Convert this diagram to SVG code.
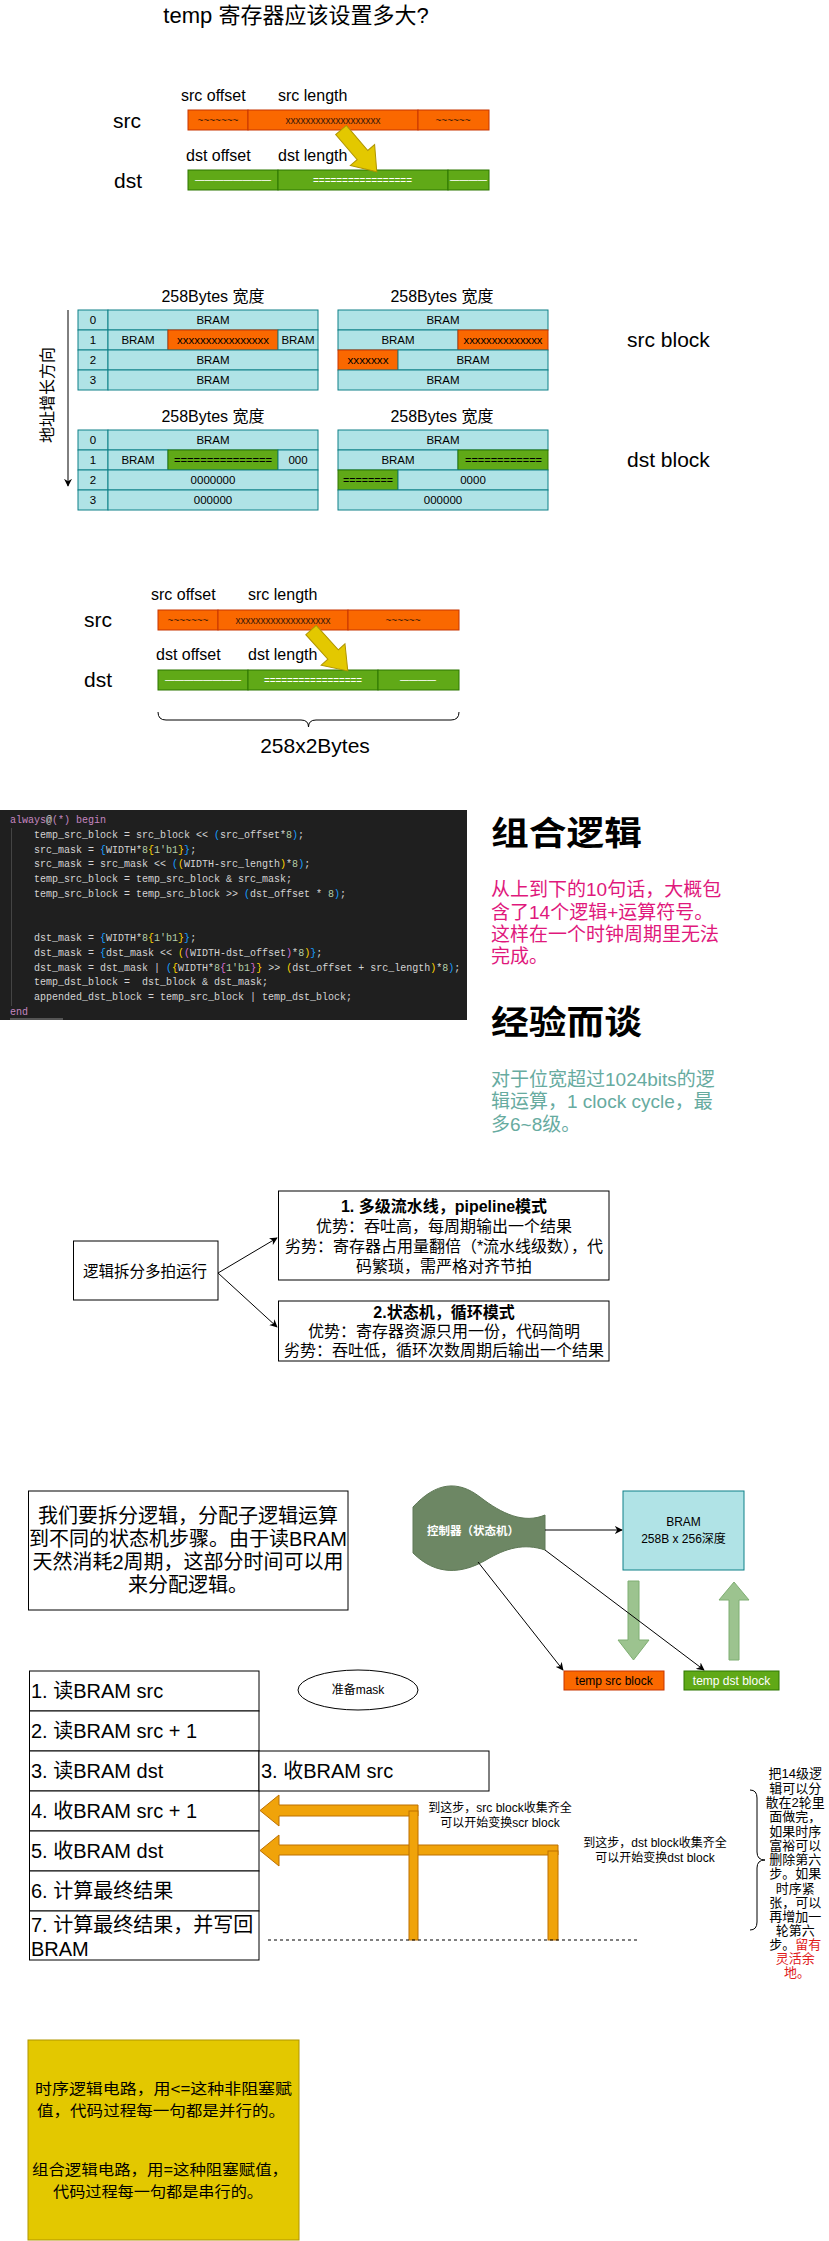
<svg xmlns="http://www.w3.org/2000/svg" width="829" height="2241" viewBox="0 0 829 2241">
<style>
.t{font-family:'Liberation Sans','Noto Sans CJK SC',sans-serif;fill:#000}
.m{text-anchor:middle}
.cell{fill:#b0e3e6;stroke:#0e8088;stroke-width:1}
.or{fill:#fa6800;stroke:#c73500;stroke-width:1}
.gr{fill:#60a917;stroke:#2d7600;stroke-width:1}
.ya{fill:#e3c800;stroke:#b09500;stroke-width:1}
.box{fill:#fff;stroke:#000;stroke-width:1}
.ct{font-family:'Liberation Sans','Noto Sans CJK SC',sans-serif;font-size:11.5px;text-anchor:middle;fill:#000}
.wt{font-family:'Liberation Sans',sans-serif;font-size:11px;text-anchor:middle;fill:#fff}
.dk{font-family:'Liberation Sans',sans-serif;font-size:10px;text-anchor:middle;fill:#3a1a0a}
.code{font-family:'Liberation Mono',monospace;font-size:10px;fill:#d4d4d4;white-space:pre}
.kw{fill:#c586c0}.b1{fill:#179fff}.b2{fill:#ffd700}.b3{fill:#da70d6}.nm{fill:#b5cea8}
.oa{fill:#f0a30a;stroke:#bd7000;stroke-width:1}
.ga{fill:#9cc38f;stroke:#7fae72;stroke-width:1}
.ln{stroke:#000;stroke-width:1;fill:none}
</style>
<defs>
<marker id="ah" viewBox="0 0 10 10" refX="9" refY="5" markerWidth="8" markerHeight="8" orient="auto" markerUnits="userSpaceOnUse">
<path d="M0,0 L10,5 L0,10 L3,5 z" fill="#000"/>
</marker>
</defs>
<rect width="829" height="2241" fill="#fff"/>

<!-- Section 1 -->
<g id="title"><text class="t m" x="296" y="23" font-size="22">temp 寄存器应该设置多大?</text></g>
<g id="src1">
<text class="t" x="113" y="128" font-size="21">src</text>
<text class="t" x="181" y="101" font-size="16">src offset</text>
<text class="t" x="278" y="101" font-size="16">src length</text>
<rect class="or" x="188" y="110" width="60" height="20"/>
<rect class="or" x="248" y="110" width="170" height="20"/>
<rect class="or" x="418" y="110" width="71" height="20"/>
<text class="dk" x="218" y="124">~~~~~~~</text>
<text class="dk" x="333" y="124">xxxxxxxxxxxxxxxxxxx</text>
<text class="dk" x="453" y="124">~~~~~~</text>
</g>
<g id="dst1">
<text class="t" x="114" y="188" font-size="21">dst</text>
<text class="t" x="186" y="161" font-size="16">dst offset</text>
<text class="t" x="278" y="161" font-size="16">dst length</text>
<rect class="gr" x="188" y="170" width="90" height="20"/>
<rect class="gr" x="278" y="170" width="170" height="20"/>
<rect class="gr" x="448" y="170" width="41" height="20"/>
<text class="wt" x="233" y="183" textLength="76" lengthAdjust="spacingAndGlyphs">————————</text>
<text class="wt" x="362.5" y="184" textLength="99" lengthAdjust="spacingAndGlyphs">=================</text>
<text class="wt" x="468.5" y="183" textLength="37" lengthAdjust="spacingAndGlyphs">————</text>
</g>
<g id="arrow1"><polygon class="ya" transform="translate(341,130) rotate(49.4)" points="0,-7 33,-7 33,-16 55,0 33,16 33,7 0,7"/></g>

<!-- BRAM tables -->
<g id="axis">
<line class="ln" x1="68" y1="310" x2="68" y2="486" marker-end="url(#ah)"/>
<text class="t m" transform="translate(53,395) rotate(-90)" font-size="16">地址增长方向</text>
</g>
<g id="srctableL">
<text class="t m" x="213" y="302" font-size="16">258Bytes 宽度</text>
<rect class="cell" x="78" y="310" width="30" height="20"/><rect class="cell" x="108" y="310" width="210" height="20"/>
<rect class="cell" x="78" y="330" width="30" height="20"/><rect class="cell" x="108" y="330" width="60" height="20"/><rect class="or" x="168" y="330" width="110" height="20"/><rect class="cell" x="278" y="330" width="40" height="20"/>
<rect class="cell" x="78" y="350" width="30" height="20"/><rect class="cell" x="108" y="350" width="210" height="20"/>
<rect class="cell" x="78" y="370" width="30" height="20"/><rect class="cell" x="108" y="370" width="210" height="20"/>
<text class="ct" x="93" y="324">0</text><text class="ct" x="213" y="324">BRAM</text>
<text class="ct" x="93" y="344">1</text><text class="ct" x="138" y="344">BRAM</text><text class="ct" x="223" y="344" fill="#3a1a0a" textLength="92" lengthAdjust="spacingAndGlyphs">xxxxxxxxxxxxxxxx</text><text class="ct" x="298" y="344">BRAM</text>
<text class="ct" x="93" y="364">2</text><text class="ct" x="213" y="364">BRAM</text>
<text class="ct" x="93" y="384">3</text><text class="ct" x="213" y="384">BRAM</text>
</g>
<g id="srctableR">
<text class="t m" x="442" y="302" font-size="16">258Bytes 宽度</text>
<rect class="cell" x="338" y="310" width="210" height="20"/>
<rect class="cell" x="338" y="330" width="120" height="20"/><rect class="or" x="458" y="330" width="90" height="20"/>
<rect class="or" x="338" y="350" width="60" height="20"/><rect class="cell" x="398" y="350" width="150" height="20"/>
<rect class="cell" x="338" y="370" width="210" height="20"/>
<text class="ct" x="443" y="324">BRAM</text>
<text class="ct" x="398" y="344">BRAM</text><text class="ct" x="503" y="344" textLength="79" lengthAdjust="spacingAndGlyphs">xxxxxxxxxxxxxx</text>
<text class="ct" x="368" y="364" textLength="41" lengthAdjust="spacingAndGlyphs">xxxxxxx</text><text class="ct" x="473" y="364">BRAM</text>
<text class="ct" x="443" y="384">BRAM</text>
</g>
<g id="srcblocklabel"><text class="t" x="627" y="347" font-size="21">src block</text></g>
<g id="dsttableL">
<text class="t m" x="213" y="422" font-size="16">258Bytes 宽度</text>
<rect class="cell" x="78" y="430" width="30" height="20"/><rect class="cell" x="108" y="430" width="210" height="20"/>
<rect class="cell" x="78" y="450" width="30" height="20"/><rect class="cell" x="108" y="450" width="60" height="20"/><rect class="gr" x="168" y="450" width="110" height="20"/><rect class="cell" x="278" y="450" width="40" height="20"/>
<rect class="cell" x="78" y="470" width="30" height="20"/><rect class="cell" x="108" y="470" width="210" height="20"/>
<rect class="cell" x="78" y="490" width="30" height="20"/><rect class="cell" x="108" y="490" width="210" height="20"/>
<text class="ct" x="93" y="444">0</text><text class="ct" x="213" y="444">BRAM</text>
<text class="ct" x="93" y="464">1</text><text class="ct" x="138" y="464">BRAM</text><text class="ct" x="223" y="464" fill="#fff" textLength="98" lengthAdjust="spacingAndGlyphs">===============</text><text class="ct" x="298" y="464">000</text>
<text class="ct" x="93" y="484">2</text><text class="ct" x="213" y="484">0000000</text>
<text class="ct" x="93" y="504">3</text><text class="ct" x="213" y="504">000000</text>
</g>
<g id="dsttableR">
<text class="t m" x="442" y="422" font-size="16">258Bytes 宽度</text>
<rect class="cell" x="338" y="430" width="210" height="20"/>
<rect class="cell" x="338" y="450" width="120" height="20"/><rect class="gr" x="458" y="450" width="90" height="20"/>
<rect class="gr" x="338" y="470" width="60" height="20"/><rect class="cell" x="398" y="470" width="150" height="20"/>
<rect class="cell" x="338" y="490" width="210" height="20"/>
<text class="ct" x="443" y="444">BRAM</text>
<text class="ct" x="398" y="464">BRAM</text><text class="ct" x="503.5" y="464" fill="#fff" textLength="77" lengthAdjust="spacingAndGlyphs">============</text>
<text class="ct" x="368" y="484" fill="#fff" textLength="50" lengthAdjust="spacingAndGlyphs">========</text><text class="ct" x="473" y="484">0000</text>
<text class="ct" x="443" y="504">000000</text>
</g>
<g id="dstblocklabel"><text class="t" x="627" y="467" font-size="21">dst block</text></g>

<!-- Section 2 -->
<g id="src2">
<text class="t" x="84" y="627" font-size="21">src</text>
<text class="t" x="151" y="600" font-size="16">src offset</text>
<text class="t" x="248" y="600" font-size="16">src length</text>
<rect class="or" x="158" y="610" width="60" height="20"/>
<rect class="or" x="218" y="610" width="130" height="20"/>
<rect class="or" x="348" y="610" width="111" height="20"/>
<text class="dk" x="188" y="624">~~~~~~~</text>
<text class="dk" x="283" y="624">xxxxxxxxxxxxxxxxxxx</text>
<text class="dk" x="403" y="624">~~~~~~</text>
</g>
<g id="dst2">
<text class="t" x="84" y="687" font-size="21">dst</text>
<text class="t" x="156" y="660" font-size="16">dst offset</text>
<text class="t" x="248" y="660" font-size="16">dst length</text>
<rect class="gr" x="158" y="670" width="90" height="20"/>
<rect class="gr" x="248" y="670" width="130" height="20"/>
<rect class="gr" x="378" y="670" width="81" height="20"/>
<text class="wt" x="203" y="683" textLength="76" lengthAdjust="spacingAndGlyphs">————————</text>
<text class="wt" x="313" y="684" textLength="98" lengthAdjust="spacingAndGlyphs">=================</text>
<text class="wt" x="418" y="683" textLength="36" lengthAdjust="spacingAndGlyphs">————</text>
</g>
<g id="arrow2"><polygon class="ya" transform="translate(311,630) rotate(48)" points="0,-7 33,-7 33,-16 55,0 33,16 33,7 0,7"/></g>
<g id="brace1">
<path class="ln" d="M158,712 Q158,720 166,720 L301,720 Q308.5,720 308.5,727 Q308.5,720 316,720 L451,720 Q459,720 459,712"/>
<text class="t m" x="315" y="753" font-size="21">258x2Bytes</text>
</g>

<!-- Code -->
<g id="code">
<rect x="0" y="810" width="467" height="210" fill="#1f1f1f"/>
<line x1="11.5" y1="828" x2="11.5" y2="1006" stroke="#444" stroke-width="1"/>
<rect x="10" y="1018" width="53" height="2" fill="#555"/>
<text class="code" x="10" y="823"><tspan class="kw">always</tspan>@<tspan class="kw">(*)</tspan> <tspan class="kw">begin</tspan></text>
<text class="code" x="34" y="838">temp_src_block = src_block &lt;&lt; <tspan class="b1">(</tspan>src_offset*<tspan class="nm">8</tspan><tspan class="b1">)</tspan>;</text>
<text class="code" x="34" y="853">src_mask = <tspan class="b1">{</tspan>WIDTH*<tspan class="nm">8</tspan><tspan class="b2">{</tspan><tspan class="nm">1'b1</tspan><tspan class="b2">}</tspan><tspan class="b1">}</tspan>;</text>
<text class="code" x="34" y="867">src_mask = src_mask &lt;&lt; <tspan class="b1">(</tspan><tspan class="b2">(</tspan>WIDTH-src_length<tspan class="b2">)</tspan>*<tspan class="nm">8</tspan><tspan class="b1">)</tspan>;</text>
<text class="code" x="34" y="882">temp_src_block = temp_src_block &amp; src_mask;</text>
<text class="code" x="34" y="897">temp_src_block = temp_src_block &gt;&gt; <tspan class="b1">(</tspan>dst_offset * <tspan class="nm">8</tspan><tspan class="b1">)</tspan>;</text>
<text class="code" x="34" y="941">dst_mask = <tspan class="b1">{</tspan>WIDTH*<tspan class="nm">8</tspan><tspan class="b2">{</tspan><tspan class="nm">1'b1</tspan><tspan class="b2">}</tspan><tspan class="b1">}</tspan>;</text>
<text class="code" x="34" y="956">dst_mask = <tspan class="b1">{</tspan>dst_mask &lt;&lt; <tspan class="b2">(</tspan><tspan class="b3">(</tspan>WIDTH-dst_offset<tspan class="b3">)</tspan>*<tspan class="nm">8</tspan><tspan class="b2">)</tspan><tspan class="b1">}</tspan>;</text>
<text class="code" x="34" y="971">dst_mask = dst_mask | <tspan class="b1">(</tspan><tspan class="b2">{</tspan>WIDTH*<tspan class="nm">8</tspan><tspan class="b3">{</tspan><tspan class="nm">1'b1</tspan><tspan class="b3">}</tspan><tspan class="b2">}</tspan> &gt;&gt; <tspan class="b2">(</tspan>dst_offset + src_length<tspan class="b2">)</tspan>*<tspan class="nm">8</tspan><tspan class="b1">)</tspan>;</text>
<text class="code" x="34" y="985">temp_dst_block =  dst_block &amp; dst_mask;</text>
<text class="code" x="34" y="1000">appended_dst_block = temp_src_block | temp_dst_block;</text>
<text class="code" x="10" y="1015"><tspan class="kw">end</tspan></text>
</g>
<g id="combo">
<text class="t" x="491" y="845" font-size="33" font-weight="bold" textLength="151" lengthAdjust="spacingAndGlyphs">组合逻辑</text>
<text class="t" font-size="19" style="fill:#e0187c">
<tspan x="491" y="896">从上到下的10句话，大概包</tspan>
<tspan x="491" y="919">含了14个逻辑+运算符号。</tspan>
<tspan x="491" y="941">这样在一个时钟周期里无法</tspan>
<tspan x="491" y="963">完成。</tspan>
</text>
</g>
<g id="exp">
<text class="t" x="491" y="1034" font-size="33" font-weight="bold" textLength="151" lengthAdjust="spacingAndGlyphs">经验而谈</text>
<text class="t" font-size="19" style="fill:#67ab9f">
<tspan x="491" y="1086">对于位宽超过1024bits的逻</tspan>
<tspan x="491" y="1108">辑运算，1 clock cycle，最</tspan>
<tspan x="491" y="1131">多6~8级。</tspan>
</text>
</g>

<!-- Logic split -->
<g id="split">
<rect class="box" x="73.5" y="1241" width="144.5" height="59"/>
<text class="t m" x="145" y="1277" font-size="15.5">逻辑拆分多拍运行</text>
</g>
<g id="pipeline">
<rect class="box" x="278.5" y="1191" width="330.5" height="89"/>
<text class="t m" x="444" y="1212" font-size="16" font-weight="bold">1. 多级流水线，pipeline模式</text>
<text class="t m" x="444" y="1232" font-size="16">优势：吞吐高，每周期输出一个结果</text>
<text class="t m" x="444" y="1252" font-size="16">劣势：寄存器占用量翻倍（*流水线级数），代</text>
<text class="t m" x="444" y="1272" font-size="16">码繁琐，需严格对齐节拍</text>
</g>
<g id="fsm">
<rect class="box" x="278.5" y="1301" width="330.5" height="60"/>
<text class="t m" x="444" y="1318" font-size="16" font-weight="bold">2.状态机，循环模式</text>
<text class="t m" x="444" y="1337" font-size="16">优势：寄存器资源只用一份，代码简明</text>
<text class="t m" x="444" y="1356" font-size="16">劣势：吞吐低，循环次数周期后输出一个结果</text>
</g>

<!-- State machine section -->
<g id="note">
<rect class="box" x="28.5" y="1491" width="319.5" height="119"/>
<text class="t m" x="188" y="1523" font-size="20">我们要拆分逻辑，分配子逻辑运算</text>
<text class="t m" x="188" y="1546" font-size="20">到不同的状态机步骤。由于读BRAM</text>
<text class="t m" x="188" y="1569" font-size="20">天然消耗2周期，这部分时间可以用</text>
<text class="t m" x="188" y="1592" font-size="20">来分配逻辑。</text>
</g>
<g id="controller">
<path d="M413,1507 C436,1482 458,1480 480,1497 C502,1514 524,1524 545,1515 L545,1550 C524,1543 506,1548 486,1560 C462,1574 436,1576 413,1553 Z" fill="#6d8764" stroke="#5e7856" stroke-width="1"/>
<text class="t m" x="473" y="1535" font-size="11.5" font-weight="bold" style="fill:#fff">控制器（状态机）</text>
</g>
<g id="bram">
<rect class="cell" x="623" y="1491" width="121" height="79"/>
<text class="t m" x="683.5" y="1526" font-size="12">BRAM</text>
<text class="t m" x="683.5" y="1543" font-size="12">258B x 256深度</text>
</g>
<g id="tempsrc">
<rect class="or" x="564" y="1671" width="100" height="19"/>
<text class="t m" x="614" y="1685" font-size="12" fill="#222">temp src block</text>
</g>
<g id="tempdst">
<rect class="gr" x="684" y="1671" width="95" height="19"/>
<text class="t m" x="731.5" y="1685" font-size="12" style="fill:#fff">temp dst block</text>
</g>
<g id="bigarrows">
<polygon class="ga" points="628,1581 639,1581 639,1640 649,1640 633.5,1660 618,1640 628,1640"/>
<polygon class="ga" points="729,1660 739,1660 739,1600 749,1600 734,1582 719,1600 729,1600"/>
</g>
<g id="mask">
<ellipse cx="358" cy="1690" rx="60" ry="20" fill="#fff" stroke="#000" stroke-width="1"/>
<text class="t m" x="358" y="1694" font-size="12">准备mask</text>
</g>

<g id="steps">
<rect class="box" x="29.5" y="1671" width="229.5" height="40"/>
<rect class="box" x="29.5" y="1711" width="229.5" height="40"/>
<rect class="box" x="29.5" y="1751" width="229.5" height="40"/>
<rect class="box" x="29.5" y="1791" width="229.5" height="40"/>
<rect class="box" x="29.5" y="1831" width="229.5" height="40"/>
<rect class="box" x="29.5" y="1871" width="229.5" height="40"/>
<rect class="box" x="29.5" y="1911" width="229.5" height="49"/>
<text class="t" x="31" y="1698" font-size="20">1. 读BRAM src</text>
<text class="t" x="31" y="1738" font-size="20">2. 读BRAM src + 1</text>
<text class="t" x="31" y="1778" font-size="20">3. 读BRAM dst</text>
<text class="t" x="31" y="1818" font-size="20">4. 收BRAM src + 1</text>
<text class="t" x="31" y="1858" font-size="20">5. 收BRAM dst</text>
<text class="t" x="31" y="1898" font-size="20">6. 计算最终结果</text>
<text class="t" x="31" y="1932" font-size="20">7. 计算最终结果，并写回</text>
<text class="t" x="31" y="1956" font-size="20">BRAM</text>
</g>
<g id="step3b">
<rect class="box" x="259" y="1751" width="230" height="40"/>
<text class="t" x="261" y="1778" font-size="20">3. 收BRAM src</text>
</g>

<g id="connectors">
<line class="ln" x1="218" y1="1273" x2="277" y2="1238" marker-end="url(#ah)"/>
<line class="ln" x1="218" y1="1273" x2="277" y2="1327" marker-end="url(#ah)"/>
<line class="ln" x1="545" y1="1530" x2="622" y2="1530" marker-end="url(#ah)"/>
<line class="ln" x1="478" y1="1562" x2="563" y2="1670" marker-end="url(#ah)"/>
<line class="ln" x1="545" y1="1550" x2="704" y2="1670" marker-end="url(#ah)"/>
<polygon class="oa" points="260,1810.5 279,1795 279,1805 418,1805 418,1816 279,1816 279,1826"/>
<polygon class="oa" points="260,1850.5 279,1835 279,1845 558,1845 558,1855 279,1855 279,1866"/>
<rect class="oa" x="409" y="1811" width="9" height="129"/>
<rect class="oa" x="548" y="1851" width="10" height="89"/>
<line x1="268" y1="1940" x2="638" y2="1940" stroke="#000" stroke-width="1" stroke-dasharray="3,3"/>
</g>
<g id="notes">
<text class="t m" x="500" y="1812" font-size="12">到这步，src block收集齐全</text>
<text class="t m" x="500" y="1827" font-size="12">可以开始变换scr block</text>
<text class="t m" x="655" y="1847" font-size="12">到这步，dst block收集齐全</text>
<text class="t m" x="655" y="1862" font-size="12">可以开始变换dst block</text>
</g>
<g id="brace2">
<path class="ln" d="M750,1790 Q757,1790 757,1798 L757,1852 Q757,1860 765,1860 Q757,1860 757,1868 L757,1922 Q757,1930 750,1930"/>
<text class="t m" font-size="13">
<tspan x="797" y="1778">把14级逻</tspan>
<tspan x="797" y="1793">辑可以分</tspan>
<tspan x="797" y="1807">散在2轮里</tspan>
<tspan x="797" y="1821">面做完，</tspan>
<tspan x="797" y="1836">如果时序</tspan>
<tspan x="797" y="1850">富裕可以</tspan>
<tspan x="797" y="1864">删除第六</tspan>
<tspan x="797" y="1878">步。如果</tspan>
<tspan x="797" y="1893">时序紧</tspan>
<tspan x="797" y="1907">张，可以</tspan>
<tspan x="797" y="1921">再增加一</tspan>
<tspan x="797" y="1935">轮第六</tspan>
<tspan x="797" y="1949">步。<tspan style="fill:#e01b1b">留有</tspan></tspan>
<tspan x="797" y="1963" style="fill:#e01b1b">灵活余</tspan>
<tspan x="797" y="1977" style="fill:#e01b1b">地。</tspan>
</text>
</g>

<g id="yellowbox">
<rect x="28" y="2040" width="271" height="200" fill="#e3c800" stroke="#b09500" stroke-width="1"/>
<text class="t m" x="163.5" y="2094" font-size="15" textLength="257" lengthAdjust="spacingAndGlyphs">时序逻辑电路，用&lt;=这种非阻塞赋</text>
<text class="t m" x="161" y="2116" font-size="15" textLength="248" lengthAdjust="spacingAndGlyphs">值，代码过程每一句都是并行的。</text>
<text class="t m" x="160" y="2175" font-size="15" textLength="256" lengthAdjust="spacingAndGlyphs">组合逻辑电路，用=这种阻塞赋值，</text>
<text class="t m" x="158" y="2197" font-size="15" textLength="210" lengthAdjust="spacingAndGlyphs">代码过程每一句都是串行的。</text>
</g>
</svg>
